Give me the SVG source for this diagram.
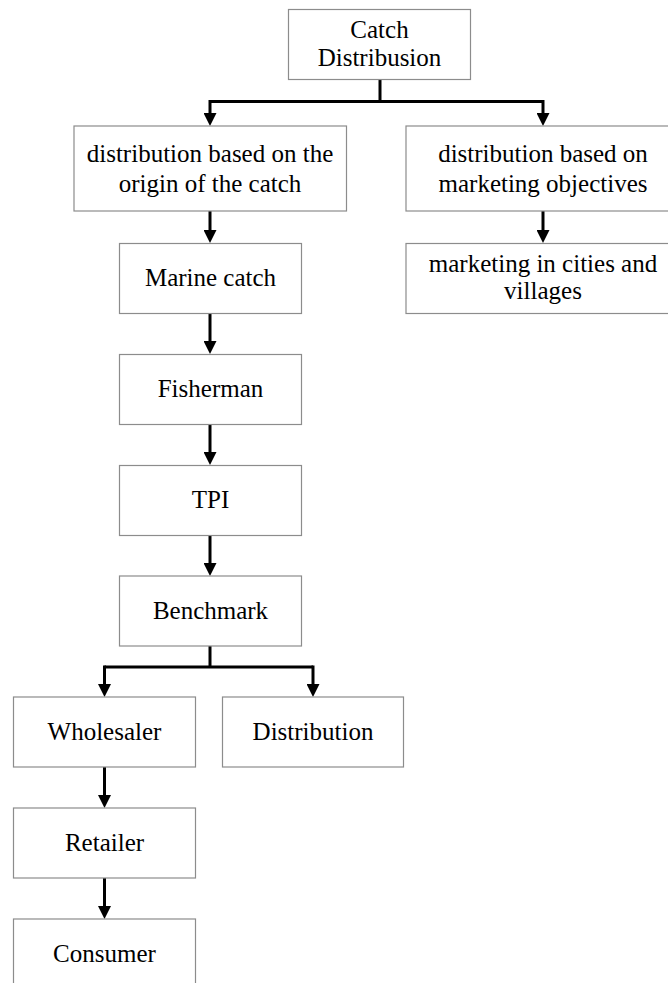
<svg xmlns="http://www.w3.org/2000/svg" width="668" height="983" viewBox="0 0 668 983">
<style>
.box{fill:#fff;stroke:#8c8c8c;stroke-width:1.2}
text{font-family:"Liberation Serif","Times New Roman",serif;font-size:25px;fill:#000;text-anchor:middle}
.c{fill:none;stroke:#000;stroke-width:3}
</style>
<defs>
<marker id="ah" viewBox="0 0 13 13" refX="0" refY="6.5" markerWidth="13" markerHeight="13" markerUnits="userSpaceOnUse" orient="auto">
<path d="M0,0 L13,6.5 L0,13 z" fill="#000"/>
</marker>
</defs>
<rect width="668" height="983" fill="#fff"/>
<g id="connectors">
<path class="c" d="M380,79 V101.5"/>
<path class="c" d="M210,101.5 H543"/>
<path class="c" d="M210,100 V113" marker-end="url(#ah)"/>
<path class="c" d="M543,100 V113" marker-end="url(#ah)"/>
<path class="c" d="M210,211 V230" marker-end="url(#ah)"/>
<path class="c" d="M543,211 V230" marker-end="url(#ah)"/>
<path class="c" d="M210,313 V341" marker-end="url(#ah)"/>
<path class="c" d="M210,424 V452" marker-end="url(#ah)"/>
<path class="c" d="M210,535 V563" marker-end="url(#ah)"/>
<path class="c" d="M210,646 V667"/>
<path class="c" d="M104.5,667 H313"/>
<path class="c" d="M104.5,665.5 V684" marker-end="url(#ah)"/>
<path class="c" d="M313,665.5 V684" marker-end="url(#ah)"/>
<path class="c" d="M104.5,767 V795" marker-end="url(#ah)"/>
<path class="c" d="M104.5,878 V906" marker-end="url(#ah)"/>
</g>
<g id="n-catch">
<rect class="box" x="288.5" y="9.5" width="182" height="70"/>
<text x="379.5" y="37.5">Catch</text>
<text x="379.5" y="65.5">Distribusion</text>
</g>
<g id="n-origin">
<rect class="box" x="74" y="126" width="272.5" height="85"/>
<text x="210" y="162">distribution based on the</text>
<text x="210" y="192">origin of the catch</text>
</g>
<g id="n-objectives">
<rect class="box" x="406" y="126" width="274" height="85"/>
<text x="543" y="162">distribution based on</text>
<text x="543" y="192">marketing objectives</text>
</g>
<g id="n-cities">
<rect class="box" x="406" y="243.5" width="274" height="70"/>
<text x="543" y="272">marketing in cities and</text>
<text x="543" y="299">villages</text>
</g>
<g id="n-marine">
<rect class="box" x="119.5" y="243.5" width="182" height="70"/>
<text x="210.5" y="286">Marine catch</text>
</g>
<g id="n-fisherman">
<rect class="box" x="119.5" y="354.5" width="182" height="70"/>
<text x="210.5" y="397">Fisherman</text>
</g>
<g id="n-tpi">
<rect class="box" x="119.5" y="465.5" width="182" height="70"/>
<text x="210.5" y="508">TPI</text>
</g>
<g id="n-benchmark">
<rect class="box" x="119.5" y="576" width="182" height="70"/>
<text x="210.5" y="619">Benchmark</text>
</g>
<g id="n-wholesaler">
<rect class="box" x="13.5" y="697" width="182" height="70"/>
<text x="104.5" y="740">Wholesaler</text>
</g>
<g id="n-distribution">
<rect class="box" x="222.5" y="697" width="181" height="70"/>
<text x="313" y="740">Distribution</text>
</g>
<g id="n-retailer">
<rect class="box" x="13.5" y="808" width="182" height="70"/>
<text x="104.5" y="851">Retailer</text>
</g>
<g id="n-consumer">
<rect class="box" x="13.5" y="919" width="182" height="70"/>
<text x="104.5" y="962">Consumer</text>
</g>
</svg>
